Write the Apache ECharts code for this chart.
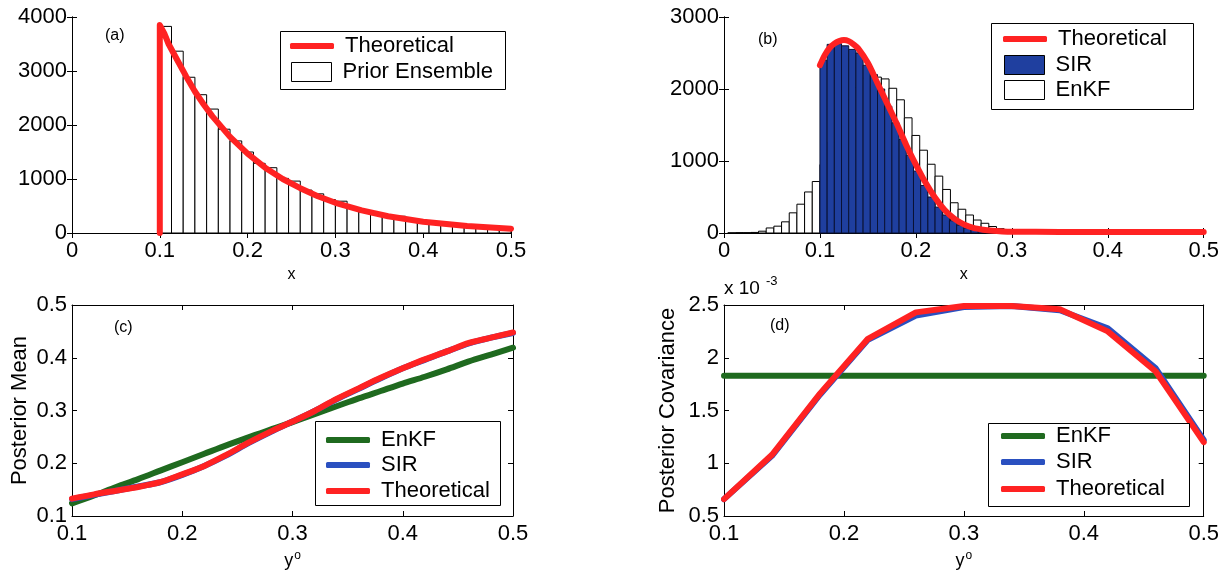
<!DOCTYPE html>
<html><head><meta charset="utf-8">
<script src="https://cdn.jsdelivr.net/npm/echarts@6/dist/echarts.min.js"></script>
<style>html,body{margin:0;padding:0;background:#fff}#c{width:1222px;height:575px}</style>
</head><body><div id="c"></div>
<script>
// ---------------- DATA ----------------
// (a) prior ensemble histogram (bins from 0.1 to 0.5)
const priorBinStart = 0.1;
const priorBinWidth = 0.4 / 30;
const priorCounts = [3826,3367,2884,2561,2295,1922,1705,1500,1290,1209,1011,961,794,725,620,589,465,390,340,298,310,248,217,186,167,136,124,105,93,74];
const aTheoX = [0.1,0.1,0.105,0.11,0.12,0.13,0.14,0.15,0.16,0.18,0.2,0.22,0.24,0.26,0.28,0.3,0.33,0.36,0.4,0.45,0.5];
const aTheoY = [0,3850,3700,3500,3200,2900,2620,2380,2160,1780,1470,1210,1000,830,680,560,420,310,210,130,80];

// (b) posterior histograms
const enkfBinStart = 0.004;
const enkfBinWidth = 0.008;
const enkfCounts = [3,5,5,8,25,70,95,155,280,400,570,715,950,1260,1600,1850,2020,2150,2265,2165,2140,2010,1850,1600,1355,1150,955,790,605,420,330,250,180,135,90,60,30,20,10,8,5,5,3,3];
const sirBinStart = 0.1;
const sirBinWidth = 0.0075;
const sirCounts = [2400,2620,2630,2600,2550,2500,2330,2200,2000,1760,1530,1300,1080,860,660,500,360,250,170,110,70,45,30,20,12,8,5,4,3,3,2,2,2,2];
const bTheoX = [0.1,0.105,0.11,0.115,0.12,0.125,0.13,0.135,0.14,0.15,0.16,0.17,0.18,0.19,0.2,0.21,0.22,0.23,0.24,0.25,0.26,0.27,0.28,0.29,0.3,0.35,0.4,0.45,0.5];
const bTheoY = [2330,2470,2570,2630,2665,2680,2665,2620,2560,2360,2080,1800,1520,1220,950,700,490,320,200,120,70,45,30,22,18,15,15,15,15];

// (c) posterior mean vs y_o
const cYo = [0.1,0.12,0.14,0.16,0.18,0.2,0.22,0.24,0.26,0.28,0.3,0.32,0.34,0.36,0.38,0.4,0.42,0.44,0.46,0.48,0.5];
const cEnKF = [0.124,0.139,0.155,0.170,0.186,0.202,0.218,0.234,0.249,0.264,0.278,0.293,0.308,0.323,0.337,0.351,0.364,0.378,0.393,0.406,0.419];
const cSIR  = [0.132,0.140,0.148,0.156,0.164,0.178,0.195,0.215,0.238,0.259,0.279,0.299,0.321,0.341,0.361,0.380,0.396,0.412,0.427,0.438,0.447];
const cTheo = [0.133,0.141,0.148,0.155,0.164,0.179,0.195,0.216,0.239,0.260,0.279,0.299,0.322,0.342,0.362,0.380,0.397,0.412,0.428,0.438,0.448];

// (d) posterior covariance (x 1e-3) vs y_o
const dYo = [0.1,0.14,0.18,0.22,0.26,0.3,0.34,0.38,0.42,0.46,0.5];
const dEnKF = [1.83,1.83,1.83,1.83,1.83,1.83,1.83,1.83,1.83,1.83,1.83];
const dSIR  = [0.66,1.07,1.65,2.17,2.40,2.48,2.49,2.45,2.28,1.90,1.22];
const dTheo = [0.66,1.08,1.66,2.18,2.43,2.49,2.49,2.46,2.25,1.87,1.20];

// ---------------- CHART ----------------
const FONT = '"Liberation Sans", Arial, Helvetica, sans-serif';
const RED = '#ff2222', GREEN = '#1f6a1f', BLUE = '#2a50c0', SIRFILL = '#1f3f9f';
const TICKFS = 22;

const grids = [
  {left:72, top:17, width:439, height:216},
  {left:724, top:17, width:481, height:216},
  {left:72, top:305, width:441, height:211},
  {left:724, top:305, width:481, height:211}
];
const xr = [[0,0.5,0.1],[0,0.5,0.1],[0.1,0.5,0.1],[0.1,0.5,0.1]];
const yr = [[0,4000,1000],[0,3000,1000],[0.1,0.5,0.1],[0.5,2.5,0.5]];
const xNames = ['x','x','{b|y}{s|o}','{b|y}{s|o}'];
const yNames = ['','','Posterior Mean','Posterior Covariance'];
const fmt = v => String(+(+v).toFixed(4));

const xAxis = [], yAxis = [];
for (let i=0;i<4;i++){
  xAxis.push({type:'value', gridIndex:i, min:xr[i][0], max:xr[i][1], interval:xr[i][2], position:'bottom',
    axisLine:{show:true, lineStyle:{color:'#000', width:1}},
    axisTick:{show:true, inside:true, length:5, lineStyle:{color:'#000'}},
    splitLine:{show:false},
    axisLabel:{color:'#000', fontSize:TICKFS, fontFamily:FONT, margin:7, formatter:fmt},
    name:xNames[i], nameLocation:'middle', nameGap:34,
    nameTextStyle:{color:'#000', fontSize:16, fontFamily:FONT,
      rich:{b:{fontSize:18, fontFamily:FONT, color:'#000'}, s:{fontSize:12, fontFamily:FONT, color:'#000', padding:[0,0,10,1]}}}
  });
  yAxis.push({type:'value', gridIndex:i, min:yr[i][0], max:yr[i][1], interval:yr[i][2], position:'left',
    axisLine:{show:true, lineStyle:{color:'#000', width:1}},
    axisTick:{show:true, inside:true, length:5, lineStyle:{color:'#000'}},
    splitLine:{show:false},
    axisLabel:{color:'#000', fontSize:TICKFS, fontFamily:FONT, margin:5, formatter:fmt},
    name:yNames[i], nameLocation:'middle', nameGap:i===2?41:45, nameRotate:90,
    nameTextStyle:{color:'#000', fontSize:22, fontFamily:FONT}
  });
}
for (let i=0;i<4;i++){
  xAxis.push({type:'value', gridIndex:i, min:xr[i][0], max:xr[i][1], interval:xr[i][2], position:'top',
    axisLine:{show:true, lineStyle:{color:'#000', width:1}},
    axisTick:{show:true, inside:true, length:5, lineStyle:{color:'#000'}},
    splitLine:{show:false}, axisLabel:{show:false}});
  yAxis.push({type:'value', gridIndex:i, min:yr[i][0], max:yr[i][1], interval:yr[i][2], position:'right',
    axisLine:{show:true, lineStyle:{color:'#000', width:1}},
    axisTick:{show:true, inside:true, length:5, lineStyle:{color:'#000'}},
    splitLine:{show:false}, axisLabel:{show:false}});
}

function histSeries(name, gi, start, width, counts, fill, stroke, z){
  const data = counts.map((c,i)=>[start + i*width, start + (i+1)*width, c]);
  return {
    type:'custom', name, xAxisIndex:gi, yAxisIndex:gi, z,
    itemStyle:{color:fill, borderColor:stroke, borderWidth:1},
    encode:{x:[0,1], y:2},
    data,
    renderItem(params, api){
      const p0 = api.coord([api.value(0), api.value(2)]);
      const p1 = api.coord([api.value(1), 0]);
      return {type:'rect', shape:{x:p0[0], y:p0[1], width:p1[0]-p0[0], height:p1[1]-p0[1]},
        style:{fill:fill, stroke:stroke, lineWidth:1}};
    }
  };
}
function lineSeries(name, gi, xs, ys, color, width, z, smooth, clip){
  return {type:'line', name, xAxisIndex:gi, yAxisIndex:gi, z,
    symbol:'none', showSymbol:false, smooth: smooth||false, clip: clip !== false,
    lineStyle:{color, width, cap:'round', join:'round'}, itemStyle:{color},
    data: xs.map((x,i)=>[x, ys[i]])};
}

const series = [
  histSeries('Prior Ensemble', 0, priorBinStart, priorBinWidth, priorCounts, '#ffffff', '#000000', 2),
  lineSeries('Theoretical', 0, aTheoX, aTheoY, RED, 6, 5, false, false),
  histSeries('EnKF', 1, enkfBinStart, enkfBinWidth, enkfCounts, '#ffffff', '#000000', 2),
  histSeries('SIR', 1, sirBinStart, sirBinWidth, sirCounts, SIRFILL, '#0a1235', 3),
  lineSeries('Theoretical', 1, bTheoX, bTheoY, RED, 6, 5, 0.3, false),
  lineSeries('EnKF', 2, cYo, cEnKF, GREEN, 6, 3, 0.3),
  lineSeries('SIR', 2, cYo, cSIR, BLUE, 6, 4, 0.3),
  lineSeries('Theoretical', 2, cYo, cTheo, RED, 6, 5, 0.3),
  lineSeries('EnKF', 3, dYo, dEnKF, GREEN, 6, 3),
  lineSeries('SIR', 3, dYo, dSIR, BLUE, 6, 4),
  lineSeries('Theoretical', 3, dYo, dTheo, RED, 6, 5)
];

// legends: one component per entry so each sample can have its own size
function legItem(name, left, cy, kind, color){
  const line = kind === 'line';
  const w = line ? 44 : 40, h = line ? 6 : 19;
  return {
    show:true, selectedMode:false, orient:'vertical', left, top: cy - 12, padding:0, z:10,
    itemWidth:w, itemHeight:h, itemGap:0,
    textStyle:{color:'#000', fontSize:22, fontFamily:FONT, padding:[0,0,0,6]},
    data:[{name, icon: line ? 'roundRect' : 'rect',
      itemStyle: line ? {color, borderWidth:0} : {color, borderColor:'#000', borderWidth:1}}]
  };
}
const legend = [
  legItem('Theoretical', 290, 47, 'line', RED),
  legItem('Prior Ensemble', 291, 73, 'rect', '#ffffff'),
  legItem('Theoretical', 1003, 40, 'line', RED),
  legItem('SIR', 1004, 66, 'rect', SIRFILL),
  legItem('EnKF', 1004, 91, 'rect', '#ffffff'),
  legItem('EnKF', 326, 441, 'line', GREEN),
  legItem('SIR', 326, 466, 'line', BLUE),
  legItem('Theoretical', 326, 492, 'line', RED),
  legItem('EnKF', 1001, 437, 'line', GREEN),
  legItem('SIR', 1001, 463, 'line', BLUE),
  legItem('Theoretical', 1001, 490, 'line', RED)
];

function box(x1,y1,x2,y2){
  return {type:'rect', z:8, shape:{x:x1+0.5, y:y1+0.5, width:x2-x1, height:y2-y1},
    style:{fill:'#fff', stroke:'#000', lineWidth:1}};
}
function txt(t, x, y, size){
  return {type:'text', z:9, x, y, style:{text:t, fill:'#000', fontSize:size, fontFamily:FONT, textVerticalAlign:'middle'}};
}
const graphic = [
  box(280,31,505,89),
  box(991,23,1193,109),
  box(315,421,500,505),
  box(988,423,1189,506),
  txt('(a)', 105, 36, 16),
  txt('(b)', 758, 40, 16),
  txt('(c)', 114, 328, 16),
  txt('(d)', 770, 326, 16),
  txt('x 10', 724, 289, 19),
  txt('-3', 766, 281, 13)
];

const chart = echarts.init(document.getElementById('c'), null, {renderer:'canvas'});
chart.setOption({
  backgroundColor:'#fff', animation:false,
  grid: grids.map(g=>Object.assign({containLabel:false}, g)),
  xAxis, yAxis, series, legend, graphic
});
</script></body></html>
